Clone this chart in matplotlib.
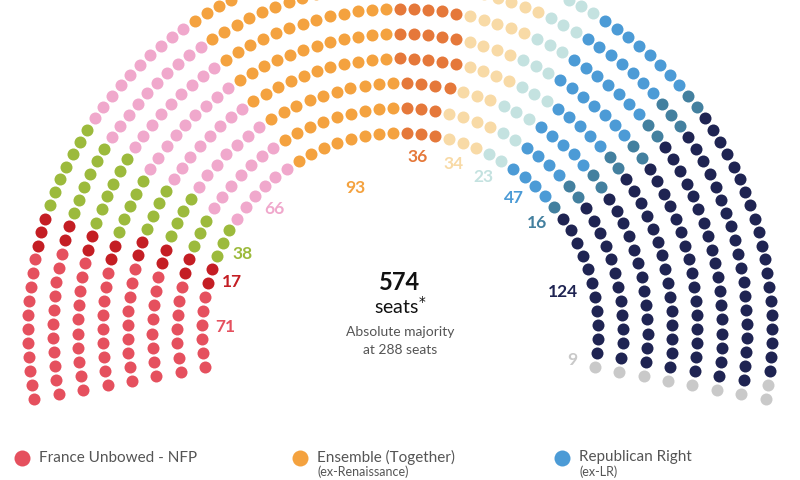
import numpy as np
import matplotlib
matplotlib.use('Agg')
import matplotlib.pyplot as plt

plt.rcParams['font.family'] = ['Lato', 'DejaVu Sans']

# seats per group, left to right
seats = [71, 17, 38, 66, 93, 36, 34, 23, 47, 16, 124, 9]
colors = ['#E5505E', '#C41E24', '#9CBA3C', '#F0A8CC', '#F4A23F', '#E5783A',
          '#F8DAA6', '#C4E2E0', '#4C9BD6', '#43809F', '#1F2452', '#C9C9C9']

legend_names = ['France Unbowed - NFP', 'Ensemble (Together)', 'Republican Right']
legend_subs = ['', '(ex-Renaissance)', '(ex-LR)']
legend_colors = ['#E5505E', '#F4A23F', '#4C9BD6']

total = sum(seats)

# hemicycle geometry (pixel space)
cx, cy = 400, 331
nrows = 8
r_in, r_out = 198, 372
a_start, a_end = 190.5, -10.5
radii = np.linspace(r_in, r_out, nrows)

# seats per row, proportional to radius (largest remainder)
raw = total * radii / radii.sum()
per_row = np.floor(raw).astype(int)
rest = total - per_row.sum()
order = np.argsort(-(raw - per_row))
per_row[order[:rest]] += 1

pts = []
for r, n in zip(radii, per_row):
    for a in np.linspace(a_start, a_end, n):
        pts.append((a, r))
pts.sort(key=lambda p: (-p[0], p[1]))

fig = plt.figure(figsize=(8, 4.8), dpi=100)
ax = fig.add_axes([0, 0, 1, 1])
ax.set_xlim(0, 800)
ax.set_ylim(480, 0)
ax.axis('off')

idx = 0
for n, c in zip(seats, colors):
    grp = pts[idx:idx + n]
    idx += n
    ang = np.radians([p[0] for p in grp])
    rr = np.array([p[1] for p in grp])
    ax.scatter(cx + rr * np.cos(ang), cy - rr * np.sin(ang), s=(12 * 0.72) ** 2,
               color=c, linewidths=0, zorder=2)
    # number label inside the arc, at the middle angle of the group
    mid = np.radians((grp[0][0] + grp[-1][0]) / 2)
    lr = 150 if n == 93 else (168 if n == 124 else 175)
    ax.text(cx + lr * np.cos(mid), cy - lr * np.sin(mid), str(n), color=c,
            fontsize=12.5, fontweight='bold', ha='center', va='center')

ax.text(400, 282, str(total), fontsize=17, fontweight='bold', ha='center',
        va='center', color='#111111')
ax.text(400, 306, 'seats$^{*}$', fontsize=14, ha='center', va='center', color='#111111')
ax.text(400, 332, 'Absolute majority', fontsize=10, ha='center', va='center', color='#555555')
ax.text(400, 350, 'at 288 seats', fontsize=10, ha='center', va='center', color='#555555')

# legend
for x, name, sub, c in zip([22, 300, 562], legend_names, legend_subs, legend_colors):
    ax.scatter([x], [458], s=(16 * 0.72) ** 2, color=c, linewidths=0)
    ax.text(x + 17, 457 if sub else 458, name, fontsize=11, ha='left', va='center',
            color='#555555')
    if sub:
        ax.text(x + 17, 472, sub, fontsize=9, ha='left', va='center', color='#555555')

fig.savefig('out.png', dpi=100)
